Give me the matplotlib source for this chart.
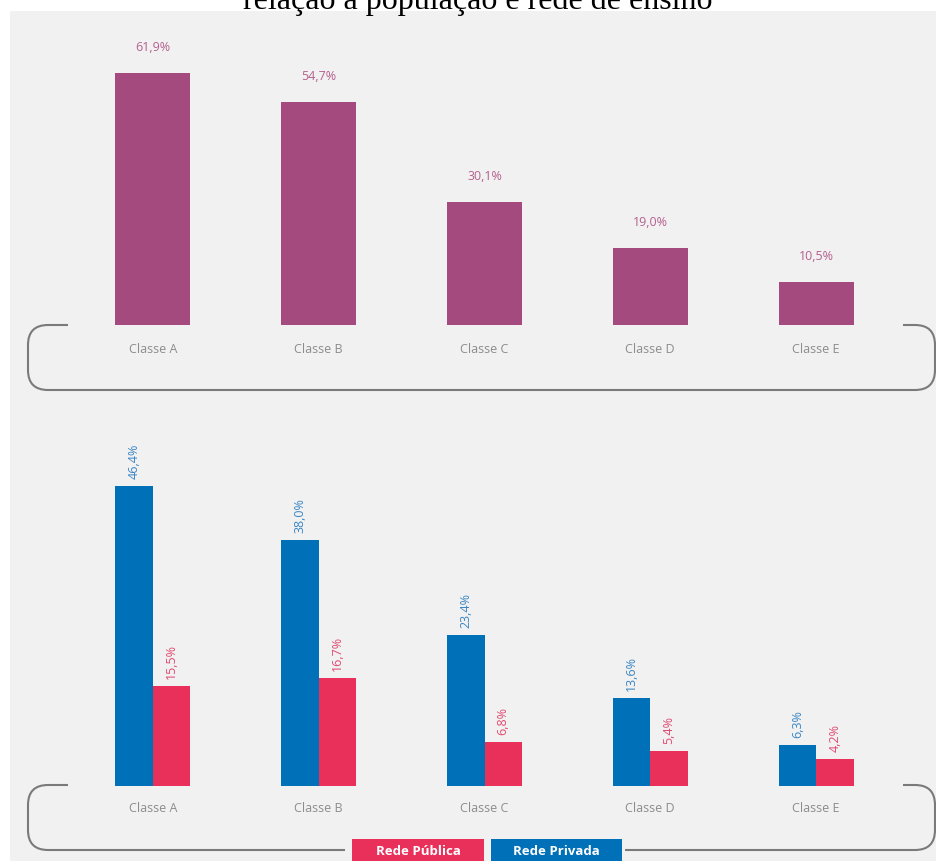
import numpy as np
import matplotlib.pyplot as plt
from matplotlib.path import Path
from matplotlib.patches import PathPatch, Rectangle

# data
classes = ['Classe A', 'Classe B', 'Classe C', 'Classe D', 'Classe E']
total = [61.9, 54.7, 30.1, 19.0, 10.5]
privada = [46.4, 38.0, 23.4, 13.6, 6.3]
publica = [15.5, 16.7, 6.8, 5.4, 4.2]
title = 'relação à população e rede de ensino'

W, H = 936, 862
magenta = '#a44a7f'
blue = '#0070b8'
red = '#e8305a'
gray_txt = '#8c8c8c'
line_col = '#7a7a7a'
panel = '#f1f1f1'

plt.rcParams['font.family'] = ['Open Sans', 'DejaVu Sans']


def fmt(v):
    return ('%.1f%%' % v).replace('.', ',')


def bracket(ax, x0, x1, y0, y1, r, sl, sr, gap=None):
    # rounded bracket drawn in pixel coords (y down)
    verts = [(sl, y0), (x0 + r, y0), (x0, y0), (x0, y0 + r),
             (x0, y1 - r), (x0, y1), (x0 + r, y1)]
    codes = [Path.MOVETO, Path.LINETO, Path.CURVE3, Path.CURVE3,
             Path.LINETO, Path.CURVE3, Path.CURVE3]
    if gap is not None:
        verts += [(gap[0], y1), (gap[1], y1)]
        codes += [Path.LINETO, Path.MOVETO]
    verts += [(x1 - r, y1), (x1, y1), (x1, y1 - r), (x1, y0 + r),
              (x1, y0), (x1 - r, y0), (sr, y0)]
    codes += [Path.LINETO, Path.CURVE3, Path.CURVE3, Path.LINETO,
              Path.CURVE3, Path.CURVE3, Path.LINETO]
    ax.add_patch(PathPatch(Path(verts, codes), fill=False, ec=line_col,
                           lw=1.5, capstyle='butt', joinstyle='round'))


fig = plt.figure(figsize=(W / 100, H / 100), dpi=100)
fig.patch.set_facecolor('white')

# background / decoration layer in pixel coordinates
bg = fig.add_axes([0, 0, 1, 1])
bg.set_xlim(0, W)
bg.set_ylim(H, 0)
bg.axis('off')
bg.add_patch(Rectangle((10, 12), W - 10, H - 12, fc=panel, ec='none'))
# title is cropped at the top edge, as in the source image
bg.text(478, 9, title, family='Liberation Serif', fontsize=23,
        ha='center', va='baseline', color='black')
bracket(bg, 28, 935, 326, 391, 20, 68, 903)
bracket(bg, 28, 935, 786, 851, 20, 68, 903, gap=(345, 625))
bg.add_patch(Rectangle((352, 840), 132, 30, fc=red, ec='none'))
bg.add_patch(Rectangle((491, 840), 131, 30, fc=blue, ec='none'))
bg.text(418, 852, 'Rede Pública', color='white', fontsize=9.5,
        fontweight='bold', ha='center', va='center')
bg.text(556, 852, 'Rede Privada', color='white', fontsize=9.5,
        fontweight='bold', ha='center', va='center')

x = np.arange(len(classes))
left = 70.1 / W
width = 828.8 / W

# top chart
ax1 = fig.add_axes([left, (H - 326) / H, width, 70 * 4.07 / H])
ax1.patch.set_alpha(0)
bars = ax1.bar(x, total, width=0.4525, color=magenta)
for b, v in zip(bars, total):
    ax1.annotate(fmt(v), (b.get_x() + b.get_width() / 2, v),
                 xytext=(0, 20), textcoords='offset pixels',
                 ha='center', va='bottom', fontsize=9, color='#b5608f')
ax1.set_xlim(-0.5, 4.5)
ax1.set_ylim(0, 70)
ax1.set_xticks(x, classes)
ax1.tick_params(length=0, pad=12, labelsize=9, labelcolor=gray_txt)
ax1.set_yticks([])
for s in ax1.spines.values():
    s.set_visible(False)

# bottom chart
ax2 = fig.add_axes([left, (H - 787) / H, width, 55 * 6.47 / H])
ax2.patch.set_alpha(0)
bw = 0.2262
b1 = ax2.bar(x - bw / 2, privada, width=bw, color=blue)
b2 = ax2.bar(x + bw / 2, publica, width=bw, color=red)
for bars, vals, c in [(b1, privada, '#3a86c4'), (b2, publica, '#e04a72')]:
    for b, v in zip(bars, vals):
        ax2.annotate(fmt(v), (b.get_x() + b.get_width() / 2, v),
                     xytext=(0, 8), textcoords='offset pixels',
                     ha='center', va='bottom', rotation=90,
                     fontsize=9, color=c)
ax2.set_xlim(-0.5, 4.5)
ax2.set_ylim(0, 55)
ax2.set_xticks(x, classes)
ax2.tick_params(length=0, pad=11, labelsize=9, labelcolor=gray_txt)
ax2.set_yticks([])
for s in ax2.spines.values():
    s.set_visible(False)

fig.savefig('out.png', dpi=100)
